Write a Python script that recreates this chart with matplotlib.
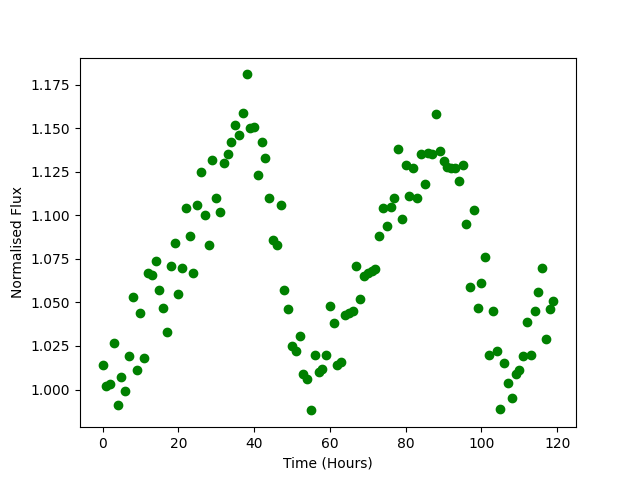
import matplotlib
matplotlib.use("Agg")
import matplotlib.pyplot as plt
import numpy as np

time_hours = np.arange(120)
flux = [
    1.014, 1.002, 1.003, 1.027, 0.991, 1.007, 0.999, 1.019, 1.053, 1.011,
    1.044, 1.018, 1.067, 1.066, 1.074, 1.057, 1.047, 1.033, 1.071, 1.084,
    1.055, 1.070, 1.104, 1.088, 1.067, 1.106, 1.125, 1.100, 1.083, 1.132,
    1.110, 1.102, 1.130, 1.135, 1.142, 1.152, 1.146, 1.159, 1.181, 1.150,
    1.151, 1.123, 1.142, 1.133, 1.110, 1.086, 1.083, 1.106, 1.057, 1.046,
    1.025, 1.022, 1.031, 1.009, 1.006, 0.988, 1.020, 1.010, 1.012, 1.020,
    1.048, 1.038, 1.014, 1.016, 1.043, 1.044, 1.045, 1.071, 1.052, 1.065,
    1.067, 1.068, 1.069, 1.088, 1.104, 1.094, 1.105, 1.110, 1.138, 1.098,
    1.129, 1.111, 1.127, 1.110, 1.135, 1.118, 1.136, 1.135, 1.158, 1.137,
    1.131, 1.128, 1.127, 1.127, 1.120, 1.129, 1.095, 1.059, 1.103, 1.047,
    1.061, 1.076, 1.020, 1.045, 1.022, 0.989, 1.015, 1.004, 0.995, 1.009,
    1.011, 1.019, 1.039, 1.020, 1.045, 1.056, 1.070, 1.029, 1.046, 1.051,
]

fig, ax = plt.subplots(figsize=(6.4, 4.8), dpi=100)
ax.plot(time_hours, flux, 'o', color='green')
ax.set_xlabel('Time (Hours)')
ax.set_ylabel('Normalised Flux')
fig.savefig('out.png')
